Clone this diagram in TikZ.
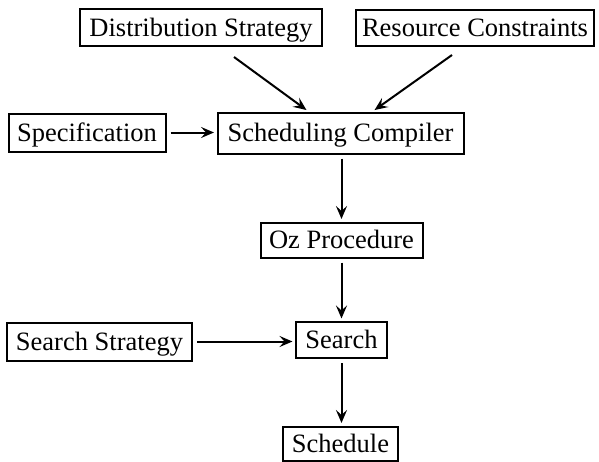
\documentclass[tikz,border=0pt]{standalone}
\usepackage{fontspec}
\setmainfont{Liberation Serif}
\usetikzlibrary{arrows.meta}
\tikzset{
  box/.style={draw, line width=2pt, inner xsep=0pt, inner ysep=0pt, text height=17pt, text depth=0pt, font=\fontsize{26.5}{30}\selectfont, anchor=center},
  conn/.style={line width=2pt, -{Stealth[length=13pt,width=11pt,inset=5pt]}, shorten <=4pt, shorten >=2.5pt}
}
\begin{document}
\begin{tikzpicture}[x=1pt,y=-1pt]
\useasboundingbox (0,0) rectangle (599,461);
\node[box, minimum width=242pt, minimum height=37pt] (dist) at (201,27.5) {Distribution Strategy};
\node[box, minimum width=238pt, minimum height=36pt] (res) at (475,27.5) {Resource Constraints};
\node[box, minimum width=157pt, minimum height=38pt] (spec) at (87,132.5) {Specification};
\node[box, minimum width=246pt, minimum height=41pt] (sc) at (340.5,133) {Scheduling Compiler};
\node[box, minimum width=162pt, minimum height=35pt] (oz) at (341.5,240) {Oz Procedure};
\node[box, minimum width=185pt, minimum height=38pt] (ss) at (99.5,341.5) {Search Strategy};
\node[box, minimum width=91pt, minimum height=36pt] (search) at (341.5,340) {Search};
\node[box, minimum width=115pt, minimum height=34pt] (sched) at (340.5,443.5) {Schedule};
\coordinate (d1) at (234,57);
\coordinate (r1) at (452,55);
\draw[conn, shorten <=0pt] (d1) -- ([xshift=-32pt]sc.north);
\draw[conn, shorten <=0pt] (r1) -- ([xshift=32pt]sc.north);
\draw[conn] (spec.east) -- (sc.west |- spec.east);
\draw[conn] (sc.south -| oz.north) -- (oz.north);
\draw[conn] (oz.south) -- (search.north -| oz.south);
\draw[conn] (ss.east) -- (search.west |- ss.east);
\draw[conn] (search.south) -- (sched.north -| search.south);
\end{tikzpicture}
\end{document}
